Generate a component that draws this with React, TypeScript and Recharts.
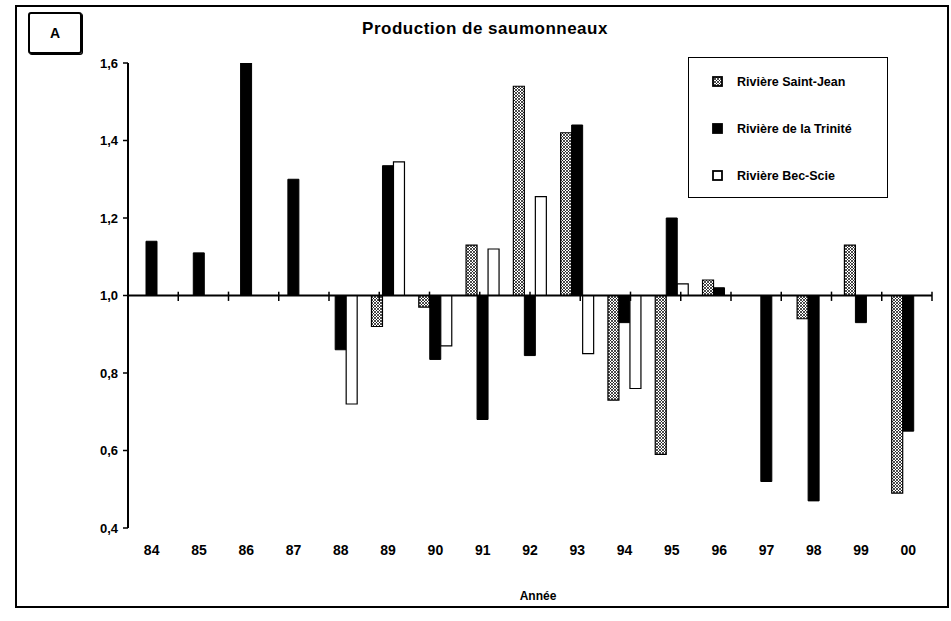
import { ComposedChart, Bar, XAxis, YAxis, ReferenceLine, Legend } from "recharts";

const years = ["84", "85", "86", "87", "88", "89", "90", "91", "92", "93", "94", "95", "96", "97", "98", "99", "00"];
const saintJean = [null, null, null, null, null, 0.92, 0.97, 1.13, 1.54, 1.42, 0.73, 0.59, 1.04, null, 0.94, 1.13, 0.49];
const trinite = [1.14, 1.11, 1.6, 1.3, 0.86, 1.335, 0.835, 0.68, 0.845, 1.44, 0.93, 1.2, 1.02, 0.52, 0.47, 0.93, 0.65];
const becScie = [null, null, null, null, 0.72, 1.345, 0.87, 1.12, 1.255, 0.85, 0.76, 1.03, null, null, null, null, null];
const yTicks = [0.4, 0.6, 0.8, 1.0, 1.2, 1.4, 1.6];
const boundaries = Array.from({ length: years.length + 1 }, (_, i) => i);

const base = 1.0;
const toRange = (v: number | null) => (v == null ? null : [base, v]);

const data = years.map((year, i) => ({
  year,
  sj: toRange(saintJean[i]),
  tr: toRange(trinite[i]),
  bs: toRange(becScie[i]),
}));

const font = "'Liberation Sans', Arial, sans-serif";

function LegendBox() {
  const items = [
    { label: "Rivière Saint-Jean", fill: "url(#hatch)" },
    { label: "Rivière de la Trinité", fill: "#000" },
    { label: "Rivière Bec-Scie", fill: "#fff" },
  ];
  return (
    <div
      style={{
        width: 200,
        height: 141,
        border: "1.5px solid #000",
        boxSizing: "border-box",
        background: "#fff",
        fontFamily: font,
        fontSize: 12.5,
        fontWeight: "bold",
      }}
    >
      {items.map((it) => (
        <div key={it.label} style={{ display: "flex", alignItems: "center", height: 47, paddingLeft: 23 }}>
          <svg width={11} height={11} style={{ marginRight: 14 }}>
            <rect x={1} y={1} width={9} height={9} fill={it.fill} stroke="#000" strokeWidth={1.8} />
          </svg>
          <span>{it.label}</span>
        </div>
      ))}
    </div>
  );
}

export default function App() {
  return (
    <div style={{ position: "absolute", left: 0, top: 0, width: 951, height: 621, background: "#fff" }}>
      <div
        style={{
          position: "absolute",
          left: 15,
          top: 5,
          width: 934,
          height: 603,
          border: "2px solid #000",
          boxSizing: "border-box",
        }}
      />
      <div
        style={{
          position: "absolute",
          left: 28,
          top: 12,
          width: 54,
          height: 42,
          border: "2px solid #000",
          borderRadius: 3,
          boxShadow: "1px 1px 0 #000",
          boxSizing: "border-box",
          display: "flex",
          alignItems: "center",
          justifyContent: "center",
          fontFamily: font,
          fontWeight: "bold",
          fontSize: 14,
        }}
      >
        A
      </div>
      <div
        style={{
          position: "absolute",
          left: 285,
          top: 19,
          width: 400,
          textAlign: "center",
          fontFamily: font,
          fontWeight: "bold",
          fontSize: 17,
          letterSpacing: 0.5,
        }}
      >
        Production de saumonneaux
      </div>
      <ComposedChart
        width={951}
        height={621}
        data={data}
        margin={{ top: 63, right: 19, bottom: 13, left: 0 }}
        barGap={0}
        barSize={11}
        style={{ position: "absolute", left: 0, top: 0 }}
      >
        <defs>
          <pattern id="hatch" width={3} height={3} patternUnits="userSpaceOnUse">
            <rect width={3} height={3} fill="#fff" />
            <path d="M0,0 L3,3 M3,0 L0,3" stroke="#000" strokeWidth={0.7} />
          </pattern>
        </defs>
        <XAxis
          xAxisId="num"
          type="number"
          domain={[0, years.length]}
          ticks={boundaries}
          allowDataOverflow
          height={0}
          tickFormatter={() => ""}
          axisLine={{ stroke: "#000", strokeWidth: 2 }}
          tickLine={{ stroke: "#000", strokeWidth: 1.5 }}
          tickSize={5}
        />
        <XAxis
          xAxisId="cat"
          dataKey="year"
          height={80}
          axisLine={false}
          tickLine={false}
          tickMargin={11}
          interval={0}
          tick={{ fill: "#000", fontFamily: font, fontWeight: "bold", fontSize: 14 }}
          label={{
            value: "Année",
            position: "insideBottom",
            offset: 8,
            dx: 8,
            style: { fill: "#000", fontFamily: font, fontWeight: "bold", fontSize: 12 },
          }}
        />
        <YAxis
          type="number"
          domain={[0.4, 1.6]}
          ticks={yTicks}
          allowDataOverflow
          width={128}
          axisLine={{ stroke: "#000", strokeWidth: 2 }}
          tickLine={{ stroke: "#000", strokeWidth: 1.5 }}
          tickSize={5}
          tickMargin={5}
          tickFormatter={(v: number) => v.toFixed(1).replace(".", ",")}
          tick={{ fill: "#000", fontFamily: font, fontWeight: "bold", fontSize: 13 }}
        />
        <Legend
          layout="horizontal"
          verticalAlign="middle"
          align="center"
          content={() => <LegendBox />}
          wrapperStyle={{ left: 688, top: 57, width: 200 }}
        />
        <Bar xAxisId="cat" dataKey="sj" name="Rivière Saint-Jean" fill="url(#hatch)" stroke="#000" strokeWidth={1.2} isAnimationActive={false} />
        <Bar xAxisId="cat" dataKey="tr" name="Rivière de la Trinité" fill="#000" stroke="#000" strokeWidth={1} isAnimationActive={false} />
        <Bar xAxisId="cat" dataKey="bs" name="Rivière Bec-Scie" fill="#fff" stroke="#000" strokeWidth={1.2} isAnimationActive={false} />
        <ReferenceLine xAxisId="num" y={base} stroke="#000" strokeWidth={2} />
        {boundaries.slice(1).map((k) => (
          <ReferenceLine
            key={k}
            xAxisId="num"
            segment={[
              { x: k, y: base - 0.014 },
              { x: k, y: base + 0.01 },
            ]}
            stroke="#000"
            strokeWidth={1.5}
          />
        ))}
      </ComposedChart>
    </div>
  );
}
